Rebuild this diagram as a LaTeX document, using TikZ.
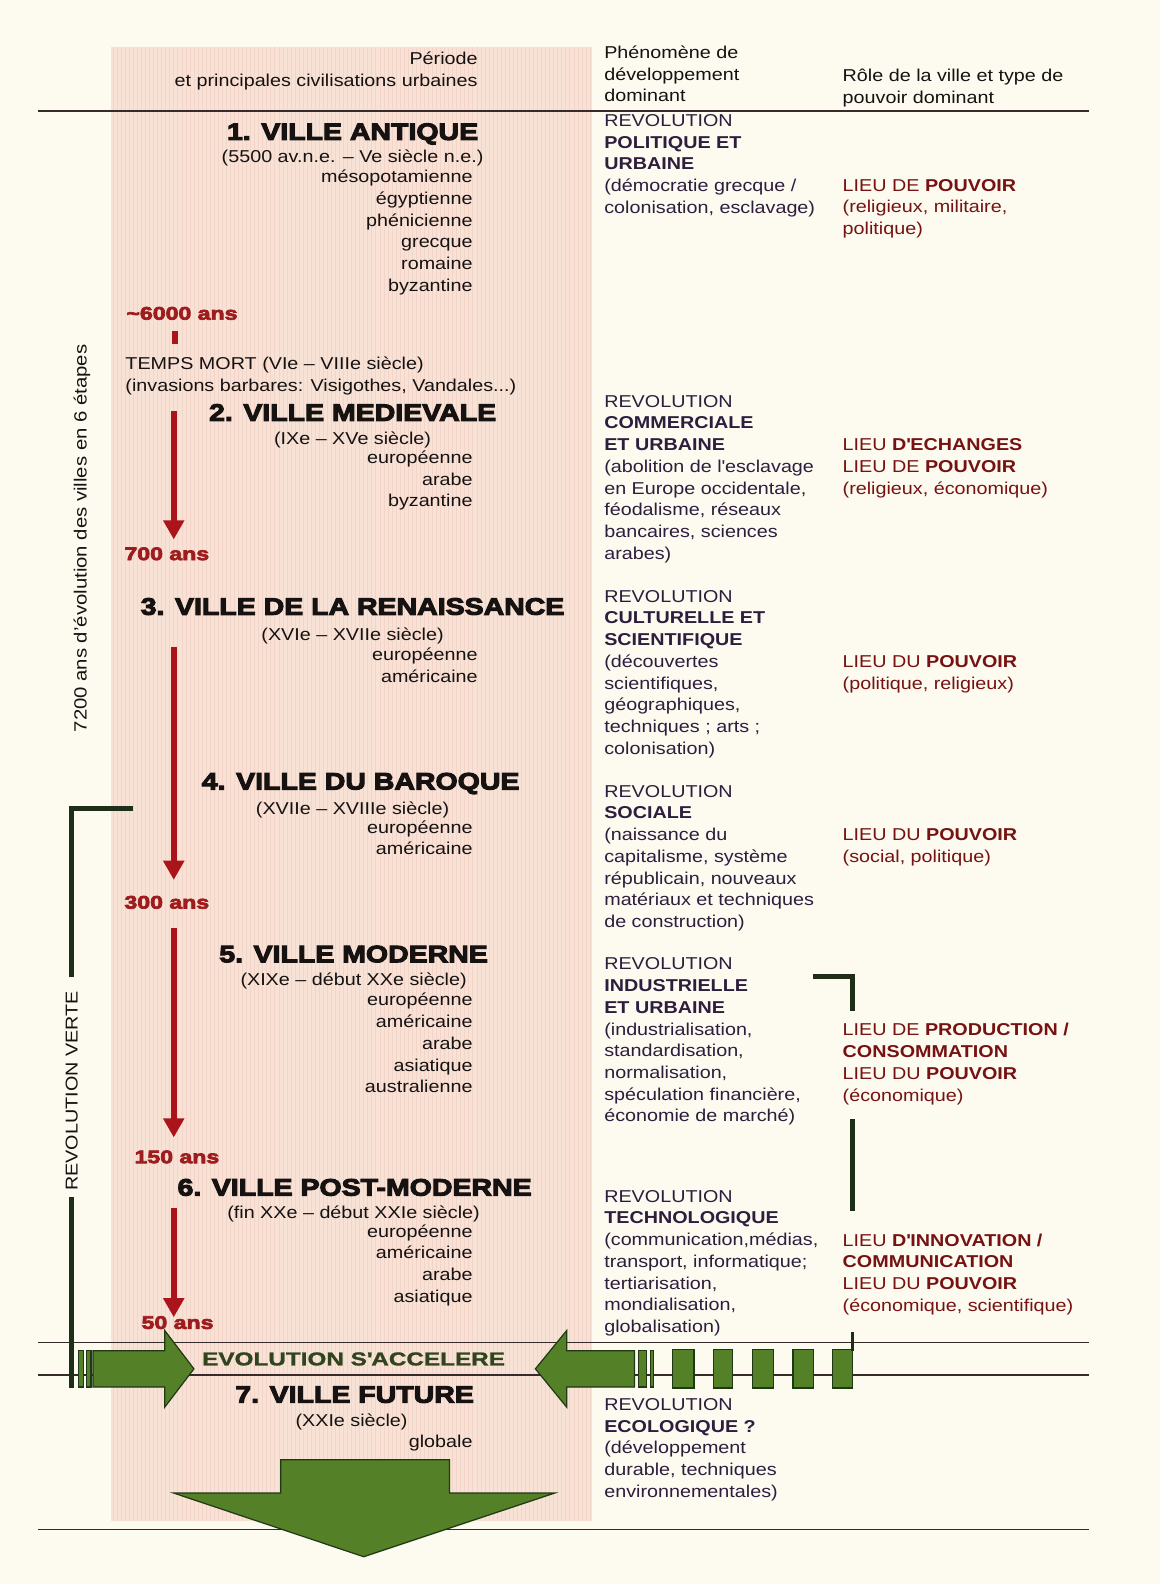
\documentclass[tikz,border=0pt]{standalone}
\usepackage{fontspec}
\setmainfont{Liberation Sans}[FakeStretch=1.15]
\newfontfamily\heavyfont{Liberation Sans}[FakeStretch=1.2,BoldFeatures={FakeBold=4.5}]
\newfontfamily\numfont{Liberation Sans}[FakeStretch=1.27,BoldFeatures={FakeBold=4}]
\newfontfamily\widefont{Liberation Sans}[FakeStretch=1.3,BoldFeatures={FakeBold=1.2}]
\usetikzlibrary{arrows.meta}

\definecolor{paper}{RGB}{253,250,240}
\definecolor{band}{RGB}{247,226,213}
\definecolor{bandline}{RGB}{238,196,186}
\definecolor{ruleink}{RGB}{55,42,42}
\definecolor{arrowred}{RGB}{172,20,28}
\definecolor{spanred}{RGB}{158,28,30}
\definecolor{phenink}{RGB}{45,30,62}
\definecolor{roleink}{RGB}{118,18,18}
\definecolor{leaf}{RGB}{84,128,40}
\definecolor{leafdark}{RGB}{32,56,20}
\definecolor{bracketink}{RGB}{30,46,24}
\definecolor{greentext}{RGB}{48,68,30}
\definecolor{ink}{RGB}{22,18,18}

\tikzset{
  txt/.style={inner sep=0pt, text=ink, font=\fontsize{17}{21.5}\selectfont},
  block/.style={txt, anchor=north west, align=left, execute at begin node=\strut},
  items/.style={txt, anchor=north east, align=right, execute at begin node=\strut},
  phen/.style={block, text=phenink},
  role/.style={block, text=roleink},
  citytitle/.style={inner sep=0pt, anchor=base, text=ink, font=\heavyfont\bfseries\fontsize{23.5}{26}\selectfont},
  period/.style={txt, anchor=base},
  span/.style={inner sep=0pt, anchor=base west, text=spanred, font=\numfont\bfseries\fontsize{18}{20}\selectfont},
  rule/.style={draw=ruleink, line width=1.3pt},
  redarrow/.style={draw=arrowred, line width=5.5pt, -{Triangle[width=20pt,length=19pt]}},
  bracket/.style={draw=bracketink, line width=5pt},
  greenbody/.style={fill=leaf, draw=leafdark, line width=1.2pt},
}

\begin{document}
\begin{tikzpicture}[x=1pt,y=-1pt]
\useasboundingbox (0,0) rectangle (1148,1568);
\fill[paper] (0,0) rectangle (1148,1568);

% shaded column of the periods
\fill[band] (110,47) rectangle (586,1506);
\foreach \x in {112,116,...,584}
  \draw[bandline, line width=0.6pt, opacity=0.45] (\x,47) -- (\x,1506);

% horizontal rules
\draw[rule] (38,110) -- (1078,110);
\draw[rule] (38,1329) -- (1078,1329);
\draw[rule] (38,1361) -- (1078,1361);
\draw[rule] (38,1514) -- (1078,1514);

% column headers
\node[txt, anchor=base east] (hperiode) at (473,64) {Période};
\node[txt, anchor=base east] (hciv) at (473,86) {et principales civilisations urbaines};
\node[block] (hphen) at (598,45) {Phénomène de\\développement\\dominant};
\node[block] (hrole) at (834,68) {Rôle de la ville et type de\\pouvoir dominant};

% left vertical captions
\node[txt, rotate=90, font=\fontsize{17.5}{20}\selectfont] (vtotal) at (81,533) {7200 ans d'évolution des villes en 6 étapes};
\node[txt, rotate=90] (vverte) at (71,1080) {REVOLUTION VERTE};

% ---- column 1: cities ----
\node[citytitle] (t1) at (349,138.5) {1. VILLE ANTIQUE};
\node[period] (s1) at (349,161) {(5500 av.n.e. – Ve siècle n.e.)};
\node[items] (i1) at (468,168) {mésopotamienne\\égyptienne\\phénicienne\\grecque\\romaine\\byzantine};
\node[span] (l1) at (125,316.4) {\textasciitilde6000 ans};

\node[block] (mort) at (124,353) {TEMPS MORT (VIe – VIIIe siècle)\\(invasions barbares: Visigothes, Vandales...)};

\node[citytitle] (t2) at (349,416.5) {2. VILLE MEDIEVALE};
\node[period] (s2) at (349,440) {(IXe – XVe siècle)};
\node[items] (i2) at (468,446) {européenne\\arabe\\byzantine};
\node[span] (l2) at (123,554.4) {700 ans};

\node[citytitle] (t3) at (349,608.5) {3. VILLE DE LA RENAISSANCE};
\node[period] (s3) at (349,634) {(XVIe – XVIIe siècle)};
\node[items] (i3) at (473,641) {européenne\\américaine};

\node[citytitle] (t4) at (357,781.5) {4. VILLE DU BAROQUE};
\node[period] (s4) at (349,806) {(XVIIe – XVIIIe siècle)};
\node[items] (i4) at (468,812) {européenne\\américaine};
\node[span] (l3) at (123,899.4) {300 ans};

\node[citytitle] (t5) at (350,952.5) {5. VILLE MODERNE};
\node[period] (s5) at (350,976) {(XIXe – début XXe siècle)};
\node[items] (i5) at (468,983) {européenne\\américaine\\arabe\\asiatique\\australienne};
\node[span] (l4) at (133,1151.4) {150 ans};

\node[citytitle] (t6) at (351,1183.5) {6. VILLE POST-MODERNE};
\node[period] (s6) at (350,1206) {(fin XXe – début XXIe siècle)};
\node[items] (i6) at (468,1212) {européenne\\américaine\\arabe\\asiatique};
\node[span] (l5) at (140,1315.4) {50 ans};

\node[citytitle] (t7) at (351,1388.5) {7. VILLE FUTURE};
\node[period] (s7) at (348,1412) {(XXIe siècle)};
\node[items] (i7) at (468,1418) {globale};

% time arrows
\coordinate (d0a) at (173,328);
\coordinate (d0b) at (173,341);
\draw[draw=arrowred, line width=5.5pt] (d0a) -- (d0b);
\coordinate (a1s) at (172,407);  \coordinate (a1e) at (172,534);
\coordinate (a2s) at (172,640);  \coordinate (a2e) at (172,871);
\coordinate (a3s) at (172,919);  \coordinate (a3e) at (172,1126);
\coordinate (a4s) at (172,1196); \coordinate (a4e) at (172,1304);
\draw[redarrow] (a1s) -- (a1e);
\draw[redarrow] (a2s) -- (a2e);
\draw[redarrow] (a3s) -- (a3e);
\draw[redarrow] (a4s) -- (a4e);

% ---- column 2: development ----
\node[phen] (p1) at (598,113) {REVOLUTION\\\textbf{POLITIQUE ET}\\\textbf{URBAINE}\\(démocratie grecque /\\colonisation, esclavage)};
\node[phen] (p2) at (598,391) {REVOLUTION\\\textbf{COMMERCIALE}\\\textbf{ET URBAINE}\\(abolition de l\textquotesingle esclavage\\en Europe occidentale,\\féodalisme, réseaux\\bancaires, sciences\\arabes)};
\node[phen] (p3) at (598,584) {REVOLUTION\\\textbf{CULTURELLE ET}\\\textbf{SCIENTIFIQUE}\\(découvertes\\scientifiques,\\géographiques,\\techniques ; arts ;\\colonisation)};
\node[phen] (p4) at (598,777) {REVOLUTION\\\textbf{SOCIALE}\\(naissance du\\capitalisme, système\\républicain, nouveaux\\matériaux et techniques\\de construction)};
\node[phen] (p5) at (598,948) {REVOLUTION\\\textbf{INDUSTRIELLE}\\\textbf{ET URBAINE}\\(industrialisation,\\standardisation,\\normalisation,\\spéculation financière,\\économie de marché)};
\node[phen] (p6) at (598,1178) {REVOLUTION\\\textbf{TECHNOLOGIQUE}\\(communication,médias,\\transport, informatique;\\tertiarisation,\\mondialisation,\\globalisation)};
\node[phen] (p7) at (598,1384) {REVOLUTION\\\textbf{ECOLOGIQUE ?}\\(développement\\durable, techniques\\environnementales)};

% ---- column 3: role of the city ----
\node[role] (r1) at (834,177) {LIEU DE \textbf{POUVOIR}\\(religieux, militaire,\\politique)};
\node[role] (r2) at (834,434) {LIEU \textbf{D\textquotesingle ECHANGES}\\LIEU DE \textbf{POUVOIR}\\(religieux, économique)};
\node[role] (r3) at (834,649) {LIEU DU \textbf{POUVOIR}\\(politique, religieux)};
\node[role] (r4) at (834,820) {LIEU DU \textbf{POUVOIR}\\(social, politique)};
\node[role] (r5) at (834,1013) {LIEU DE \textbf{PRODUCTION /}\\\textbf{CONSOMMATION}\\LIEU DU \textbf{POUVOIR}\\(économique)};
\node[role] (r6) at (834,1221) {LIEU \textbf{D\textquotesingle INNOVATION /}\\\textbf{COMMUNICATION}\\LIEU DU \textbf{POUVOIR}\\(économique, scientifique)};

% ---- green revolution brackets ----
\coordinate (gl0) at (132,800);
\coordinate (gl1) at (71,800);
\coordinate (gl2) at (71,967);
\coordinate (gl3) at (71,1185);
\coordinate (gl4) at (71,1374);
\draw[bracket] (gl0) -- (gl1) -- (gl2);
\draw[bracket] (gl3) -- (gl4);
\coordinate (gr0) at (805,967);
\coordinate (gr1) at (844,967);
\coordinate (gr2) at (844,1001);
\coordinate (gr3) at (844,1108);
\coordinate (gr4) at (844,1199);
\draw[bracket] (gr0) -- (gr1) -- (gr2);
\draw[bracket] (gr3) -- (gr4);

% left arrow: evolution pushes from the past
\fill[greenbody] (78,1337) rectangle (83,1373);
\fill[greenbody] (86,1337) rectangle (90,1373);
\fill[greenbody] (92,1337) -- (163,1337) -- (163,1317) -- (192,1355)
  -- (163,1393) -- (163,1373) -- (92,1373) -- cycle;

% right arrow: broken bar coming from the future
\fill[greenbody] (628,1337) -- (561,1337) -- (561,1317) -- (530,1355)
  -- (561,1393) -- (561,1373) -- (628,1373) -- cycle;
\fill[greenbody] (632,1337) rectangle (640,1373);
\fill[greenbody] (644,1337) rectangle (647,1373);
\foreach \a/\b in {666/687,706/725,745/766,785/805,824/844}
  \fill[greenbody] (\a,1336) rectangle (\b,1374);
\coordinate (tk0) at (844,1319);
\coordinate (tk1) at (844,1337);
\draw[draw=bracketink, line width=3pt] (tk0) -- (tk1);

\node[inner sep=0pt, anchor=base, text=greentext,
  font=\widefont\bfseries\fontsize{18.5}{20}\selectfont] (evol) at (350,1351.6) {EVOLUTION S\textquotesingle ACCELERE};

% large arrow into the future
\fill[greenbody] (278,1445) -- (445,1445) -- (445,1478) -- (549,1478)
  -- (360,1541) -- (172,1478) -- (278,1478) -- cycle;
\end{tikzpicture}
\end{document}
